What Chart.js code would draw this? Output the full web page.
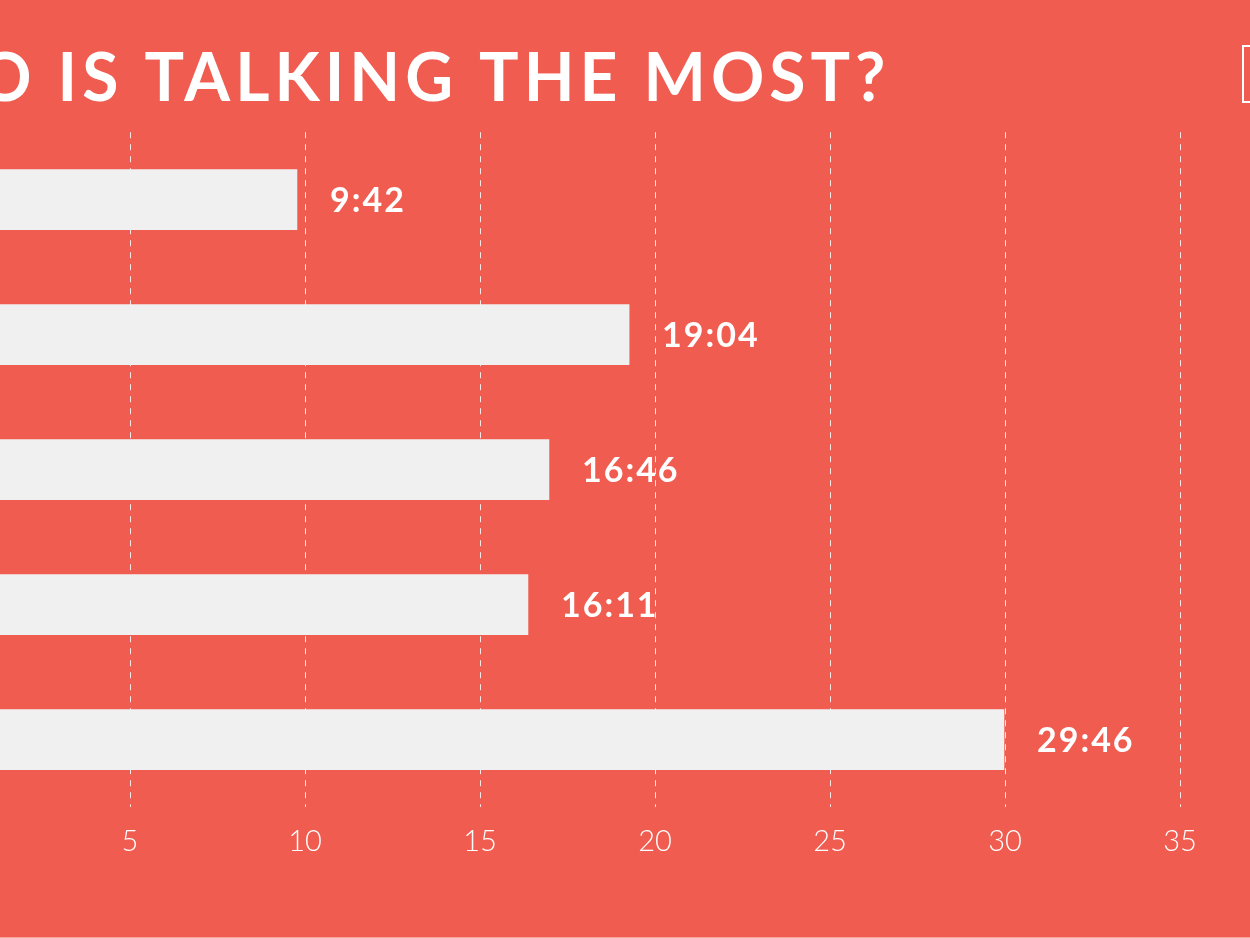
<!DOCTYPE html>
<html>
<head>
<meta charset="utf-8">
<script src="https://cdn.jsdelivr.net/npm/chart.js@4"></script>
<style>
  html, body { margin: 0; padding: 0; width: 1250px; height: 938px; overflow: hidden; background: #F05C50; }
  #wrap { position: absolute; left: -300px; top: 0; width: 1550px; height: 938px; }
  #corner { position: absolute; left: 1242px; top: 45px; width: 40px; height: 54px; border: 2px solid #ffffff; }
  #edge { position: absolute; left: 0; top: 937px; width: 1250px; height: 1px; background: #F4A59C; }
</style>
</head>
<body>
<div id="wrap"><canvas id="talkChart"></canvas></div>
<div id="corner"></div>
<div id="edge"></div>
<script>
// talking time per person, in minutes (names are cut off in the picture)
const timeLabels = ['9:42', '19:04', '16:46', '16:11', '29:46'];
const minutes = [9.77, 19.26, 16.97, 16.37, 29.97];
const xTicks = [0, 5, 10, 15, 20, 25, 30, 35];

const ctxTalk = document.getElementById('talkChart');

// wider tracking for the title only, ticks are drawn later (z: 1)
const titleSpacing = {
    id: 'titleSpacing',
    beforeDraw(chart) {
        chart.ctx.letterSpacing = '5px';
    },
    beforeDatasetsDraw(chart) {
        chart.ctx.letterSpacing = '0px';
    }
};

const valueLabels = {
    id: 'valueLabels',
    afterDatasetsDraw(chart) {
        const ctx = chart.ctx;
        const meta = chart.getDatasetMeta(0);
        ctx.save();
        ctx.fillStyle = '#ffffff';
        ctx.font = 'bold 34px Lato, sans-serif';
        ctx.letterSpacing = '2px';
        ctx.textAlign = 'left';
        ctx.textBaseline = 'middle';
        meta.data.forEach((bar, i) => {
            ctx.fillText(chart.data.labels[i], bar.x + 33, bar.y + 1);
        });
        ctx.restore();
    }
};

const dataTalk = {
    labels: timeLabels,
    datasets: [{
        label: 'Minutes',
        data: minutes,
        backgroundColor: '#F0F0F0',
        borderWidth: 0,
        barThickness: 60
    }]
};

const configTalk = {
    type: 'bar',
    data: dataTalk,
    plugins: [titleSpacing, valueLabels],
    options: {
        indexAxis: 'y',
        responsive: true,
        maintainAspectRatio: false,
        animation: false,
        layout: {
            padding: { left: 148, right: 70, top: 0, bottom: 62 }
        },
        plugins: {
            legend: { display: false },
            tooltip: { enabled: false },
            title: {
                display: true,
                text: 'WHO IS TALKING THE MOST?',
                align: 'start',
                color: '#ffffff',
                font: { family: 'Lato', size: 66, weight: 'bold', lineHeight: 1.2 },
                padding: { top: 40, bottom: 13 }
            }
        },
        scales: {
            x: {
                min: 0,
                max: 35,
                afterBuildTicks: (scale) => {
                    scale.ticks = xTicks.map(v => ({ value: v }));
                },
                ticks: {
                    color: '#ffffff',
                    padding: 17,
                    z: 1,
                    font: { family: 'Lato', size: 29, weight: '300' }
                },
                grid: {
                    color: 'rgba(255, 255, 255, 0.85)',
                    lineWidth: 1,
                    drawTicks: false
                },
                border: { display: false, dash: [6, 6] }
            },
            y: {
                ticks: { display: false },
                grid: { display: false },
                border: { display: false },
                afterFit: (scale) => { scale.width = 107; }
            }
        }
    }
};

const barChartTalk = new Chart(ctxTalk, configTalk);
</script>
</body>
</html>
